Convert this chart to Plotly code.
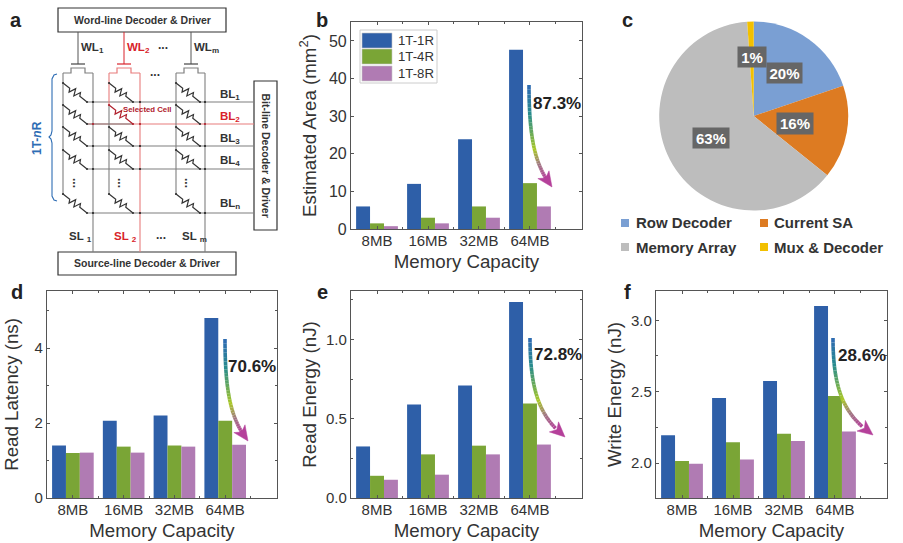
import plotly.graph_objects as go

W, H = 903, 543

# ---------- data ----------
categories = ["8MB", "16MB", "32MB", "64MB"]
series_names = ["1T-1R", "1T-4R", "1T-8R"]
area_1r = [6.0, 12.0, 23.9, 47.7]
area_4r = [1.5, 3.0, 6.0, 12.2]
area_8r = [0.75, 1.5, 3.0, 6.0]
latency_1r = [1.4, 2.06, 2.2, 4.8]
latency_4r = [1.2, 1.37, 1.4, 2.06]
latency_8r = [1.21, 1.21, 1.37, 1.42]
read_1r = [0.325, 0.59, 0.71, 1.235]
read_4r = [0.14, 0.275, 0.33, 0.595]
read_8r = [0.115, 0.147, 0.275, 0.337]
write_1r = [2.195, 2.455, 2.575, 3.1]
write_4r = [2.015, 2.145, 2.205, 2.47]
write_8r = [1.995, 2.025, 2.155, 2.22]
pie_labels = ["Row Decoder", "Current SA", "Memory Array", "Mux & Decoder"]
pie_values = [19.8, 16.0, 63.1, 1.1]
pie_text = ["20%", "16%", "63%", "1%"]

BAR_COLORS = ["#2E5FA8", "#7AA536", "#B07BB3"]
PIE_COLORS = ["#7A9FD3", "#DD7B22", "#BDBDBD", "#F2C000"]
FONT = "Liberation Sans"
INK = "#333333"
AX = "#555555"

def px(x):
    return x / W

def py(y):
    return 1 - y / H

shapes = []
annotations = []

def text(x, y, s, size=12, color=INK, bold=False, anchor="center", angle=0):
    annotations.append(dict(
        x=px(x), y=py(y), xref="paper", yref="paper", showarrow=False,
        text=f"<b>{s}</b>" if bold else s, xanchor=anchor, yanchor="middle",
        textangle=angle, font=dict(family=FONT, size=size, color=color),
    ))

def line(x0, y0, x1, y1, color="#777777", width=1.0):
    shapes.append(dict(type="line", xref="paper", yref="paper",
                       x0=px(x0), y0=py(y0), x1=px(x1), y1=py(y1),
                       line=dict(color=color, width=width)))

def rect(x0, y0, x1, y1, fill="rgba(0,0,0,0)", color="#333333", width=1.0):
    shapes.append(dict(type="rect", xref="paper", yref="paper",
                       x0=px(x0), y0=py(y0), x1=px(x1), y1=py(y1),
                       fillcolor=fill, line=dict(color=color, width=width)))

def poly(points, fill=None, color="#333333", width=1.0, close=False):
    d = "M " + " L ".join(f"{px(a):.5f},{py(b):.5f}" for a, b in points)
    if close:
        d += " Z"
    shapes.append(dict(type="path", xref="paper", yref="paper", path=d,
                       fillcolor=fill if fill else "rgba(0,0,0,0)",
                       line=dict(color=color, width=width)))

def dot(x, y, color="#222222", r=1.1):
    shapes.append(dict(type="circle", xref="paper", yref="paper",
                       x0=px(x - r), y0=py(y - r), x1=px(x + r), y1=py(y + r),
                       fillcolor=color, line=dict(color=color, width=0)))

fig = go.Figure()

# ---------- bar panels ----------
panels = [
    dict(ax="", frame=(351, 582, 22, 229), series=(area_1r, area_4r, area_8r), rng=(0, 55.05),
         dtick=10, minor=None, fmt="d", title="Estimated Area (mm<sup>2</sup>)", standoff=7, legend=True),
    dict(ax="2", frame=(47, 277, 291, 498), series=(latency_1r, latency_4r, latency_8r), rng=(0, 5.52),
         dtick=2, minor=1, fmt="d", title="Read Latency (ns)", standoff=11, legend=False),
    dict(ax="3", frame=(351, 582, 291, 498), series=(read_1r, read_4r, read_8r), rng=(0, 1.305),
         dtick=0.5, minor=0.25, fmt=".1f", title="Read Energy (nJ)", standoff=4, legend=False),
    dict(ax="4", frame=(656, 887, 291, 498), series=(write_1r, write_4r, write_8r), rng=(1.755, 3.205),
         dtick=0.5, minor=0.25, fmt=".1f", title="Write Energy (nJ)", standoff=4, legend=False),
]

axis_updates = {}
for p in panels:
    left, right, top, bottom = p["frame"]
    positions = list(range(len(categories)))
    for name, vals, col in zip(series_names, p["series"], BAR_COLORS):
        fig.add_trace(go.Bar(x=positions, y=vals, name=name, marker=dict(color=col, line=dict(width=0)),
                             xaxis="x" + p["ax"], yaxis="y" + p["ax"], showlegend=False))
    axis_updates["xaxis" + p["ax"]] = dict(
        domain=[px(left), px(right)], anchor="y" + p["ax"], range=[-0.51, 4.02],
        tickmode="array", tickvals=positions, ticktext=categories,
        ticks="inside", ticklen=3, tickwidth=1, tickcolor=AX,
        minor=dict(tickmode="array", tickvals=[i + 0.5 for i in positions], ticks="inside", ticklen=2, tickcolor=AX),
        showline=True, linecolor=AX, linewidth=1.2, mirror="allticks", showgrid=False, zeroline=False,
        tickfont=dict(family=FONT, size=15, color=INK), ticklabelstandoff=-2,
        title=dict(text="Memory Capacity", standoff=6, font=dict(family=FONT, size=18.7, color=INK)),
    )
    minor = dict(dtick=p["minor"], ticks="inside", ticklen=2, tickcolor=AX) if p["minor"] else dict(ticks="")
    axis_updates["yaxis" + p["ax"]] = dict(
        domain=[py(bottom), py(top)], anchor="x" + p["ax"], range=list(p["rng"]),
        dtick=p["dtick"], tick0=0, tickformat=p["fmt"],
        ticks="inside", ticklen=3, tickwidth=1, tickcolor=AX, minor=minor,
        showline=True, linecolor=AX, linewidth=1.2, mirror="allticks", showgrid=False, zeroline=False,
        tickfont=dict(family=FONT, size=16 if p["legend"] else 15, color=INK),
        title=dict(text=p["title"], standoff=p["standoff"], font=dict(family=FONT, size=18.7, color=INK)),
    )

# bar legend of panel b
rect(360, 30, 437, 83, fill="#FFFFFF", color="#CCCCCC", width=1)
for (y0, y1, yt), col, name in zip([(33, 48, 40.5), (49, 64, 57), (66, 81, 74)], BAR_COLORS, series_names):
    rect(362, y0, 392, y1, fill=col, color="#C8C8C8", width=0.6)
    text(396, yt, name, size=13.2, anchor="left")

# ---------- gradient arrows ----------
STOPS = [(0.0, (46, 105, 180)), (0.22, (40, 140, 140)), (0.58, (170, 200, 40)),
         (0.78, (160, 120, 130)), (1.0, (181, 64, 154))]

def mix(t):
    for (t0, c0), (t1, c1) in zip(STOPS, STOPS[1:]):
        if t <= t1:
            f = (t - t0) / (t1 - t0)
            return "rgb(%d,%d,%d)" % tuple(round(a + (b - a) * f) for a, b in zip(c0, c1))
    return "rgb(181,64,154)"

def arrow(x0, y0, x1, y1):
    dx, dy = x1 - x0, y1 - y0
    c1 = (x0, y0 + 0.55 * dy)
    c2 = (x0 + 0.3 * dx, y0 + 0.8 * dy)
    def bez(t):
        u = 1 - t
        return (u**3 * x0 + 3 * u * u * t * c1[0] + 3 * u * t * t * c2[0] + t**3 * x1,
                u**3 * y0 + 3 * u * u * t * c1[1] + 3 * u * t * t * c2[1] + t**3 * y1)
    n = 30
    last = 0.86
    for i in range(n):
        a, b = bez(last * i / n), bez(last * (i + 1) / n)
        line(a[0], a[1], b[0], b[1], color=mix((i + 0.5) / n), width=3.6)
    b = bez(last)
    ux, uy = x1 - b[0], y1 - b[1]
    L = (ux**2 + uy**2) ** 0.5
    ux, uy = ux / L, uy / L
    size, half = 15, 6.8
    base = (x1 - ux * size, y1 - uy * size)
    notch = (x1 - ux * (size - 4), y1 - uy * (size - 4))
    poly([(x1, y1), (base[0] - uy * half, base[1] + ux * half), notch,
          (base[0] + uy * half, base[1] - ux * half)], fill="#B5409A", color="#B5409A", width=0.5, close=True)

for x0, y0, x1, y1, lab, lx, ly in [
    (529, 85, 552, 187, "87.3%", 557, 104),
    (225, 339, 248, 441, "70.6%", 252, 366),
    (530, 338, 565, 437, "72.8%", 558, 354),
    (833, 338, 873, 435, "28.6%", 862, 355),
]:
    arrow(x0, y0, x1, y1)
    text(lx, ly, lab, size=17, color="#222222", bold=True)

# ---------- pie ----------
cx, cy, r = 753.7, 116, 94.5
fig.add_trace(go.Pie(
    labels=pie_labels, values=pie_values, sort=False, direction="clockwise", rotation=0,
    marker=dict(colors=PIE_COLORS, line=dict(width=0)), textinfo="none", showlegend=False,
    domain=dict(x=[px(cx - r), px(cx + r)], y=[py(cy + r), py(cy - r)]),
))
for (bx, by, bw, bh), s in zip([(784.5, 73, 35, 20), (795, 123.5, 36, 21), (711, 138, 36, 20), (752, 57, 28, 20)], pie_text):
    annotations.append(dict(
        x=px(bx), y=py(by), xref="paper", yref="paper", showarrow=False, text=f"<b>{s}</b>",
        xanchor="center", yanchor="middle",
        width=bw, height=bh, bgcolor="#666666", borderpad=0, align="center", valign="middle",
        font=dict(family=FONT, size=15, color="#FFFFFF"),
    ))
for (sx, sy, tx), lab, col in zip([(621, 219, 634), (760, 219, 772), (621, 243, 634), (760, 243, 772)], pie_labels, PIE_COLORS):
    rect(sx, sy, sx + 8, sy + 8, fill=col, color=col, width=0)
    text(tx, sy + 4, lab, size=15, bold=True, anchor="left")

# ---------- schematic (panel a) ----------
GRAY, DARK = "#7F7F7F", "#222222"
RED, PALE, DEEP = "#D8232A", "#E87C7C", "#B0202C"
columns = [(63, 93, 78, GRAY), (109, 140, 124, PALE), (176, 205, 191, GRAY)]
rows = [102, 124, 146, 169, 213]

rect(58, 8, 226, 32, fill="#FFFFFF", color="#333333", width=1.2)
rect(58, 252, 236, 275, fill="#FFFFFF", color="#333333", width=1.2)
rect(254, 81, 277, 230, fill="#FFFFFF", color="#333333", width=1.2)
text(142, 20, "Word-line Decoder &amp; Driver", size=10.5, bold=True)
text(147, 263, "Source-line Decoder &amp; Driver", size=10.5, bold=True)
text(265.5, 155, "Bit-line Decoder &amp; Driver", size=10.5, bold=True, angle=90)

for yb in rows:
    line(87, yb, 254, yb, color=PALE if yb == 124 else GRAY, width=1.1)
line(87, 124, 133, 124, color=GRAY, width=1.1)

for left, right, mid, col in columns:
    line(mid, 32, mid, 64, color=RED if col == PALE else "#555555", width=1)
    gate = RED if col == PALE else "#444444"
    line(mid - 7, 64, mid + 7, 64, color=gate, width=1.2)
    poly([(left, 73), (mid - 7, 73), (mid - 7, 68), (mid + 7, 68), (mid + 7, 73), (right, 73)], color=col, width=1.2)
    if col == PALE:
        line(left, 73, left, 105, color=PALE, width=1.1)
        line(left, 105, left, 195, color=GRAY, width=1.1)
    else:
        line(left, 73, left, 195, color=GRAY, width=1.1)
    line(right, 73, right, 252, color=col, width=1.1)
    for yb in rows:
        x0, y0, x1, y1 = left, yb - 19, left + 24, yb
        selected = col == PALE and yb == 124
        c = DEEP if selected else "#333333"
        ux, uy = (x1 - x0) / 30.5, (y1 - y0) / 30.5
        pts = [(x0, y0)]
        for f, amp in [(0.28, 0), (0.34, 3.4), (0.44, -3.4), (0.54, 3.4), (0.64, -3.4), (0.70, 0)]:
            pts.append((x0 + (x1 - x0) * f - uy * amp, y0 + (y1 - y0) * f + ux * amp))
        pts.append((x1, y1))
        poly(pts, color=c, width=1.2)
        dot(x0, y0, color=c)
        dot(x1, y1, color=c)
        dot(right, yb, color=DARK if yb != 124 else DEEP)

# bracket of 1T-nR
poly([(57, 74), (54, 75), (52, 79), (52, 131), (51, 135), (49, 137), (51, 139), (52, 143),
      (52, 196), (54, 200), (57, 201)], color="#2E6DB4", width=1.1)
text(37, 138, "1T-<i>n</i>R", size=12, color="#2E6DB4", bold=True, angle=-90)

for x, s, c in [(79, "WL<sub>1</sub>", INK), (125, "WL<sub>2</sub>", RED), (192, "WL<sub>m</sub>", INK)]:
    text(x, 48, s, size=11.5, color=c, bold=True, anchor="left")
for y, s, c in [(95, "BL<sub>1</sub>", INK), (117, "BL<sub>2</sub>", RED), (139, "BL<sub>3</sub>", INK),
                (161, "BL<sub>4</sub>", INK), (204, "BL<sub>n</sub>", INK)]:
    text(218, y, s, size=11.5, color=c, bold=True, anchor="left")
for x, s, c in [(67, "SL <sub>1</sub>", INK), (112, "SL <sub>2</sub>", RED), (180, "SL <sub>m</sub>", INK)]:
    text(x, 237, s, size=11.5, color=c, bold=True, anchor="left")
text(147, 109, "Selected Cell", size=7.8, color=DEEP, bold=True)
for x, y in [(163, 45), (155, 72), (161, 235)]:
    text(x, y, "...", size=12, bold=True)
for x in (77, 122, 189):
    text(x, 183, "...", size=12, bold=True, angle=90)

# ---------- panel letters ----------
for x, y, s in [(16, 20, "a"), (322, 20, "b"), (627, 20, "c"), (17, 292, "d"), (322, 292, "e"), (627, 292, "f")]:
    text(x, y, s, size=20, color="#222222", bold=True)

fig.update_layout(
    width=W, height=H, margin=dict(l=0, r=0, t=0, b=0, autoexpand=False),
    paper_bgcolor="#FFFFFF", plot_bgcolor="#FFFFFF", showlegend=False,
    barmode="group", bargap=0.18, bargroupgap=0,
    font=dict(family=FONT, color=INK),
    shapes=shapes, annotations=annotations, **axis_updates,
)
fig.write_html("out.html", config=dict(displayModeBar=False),
               post_script="document.body.style.margin='0';document.documentElement.style.overflow='hidden';")
